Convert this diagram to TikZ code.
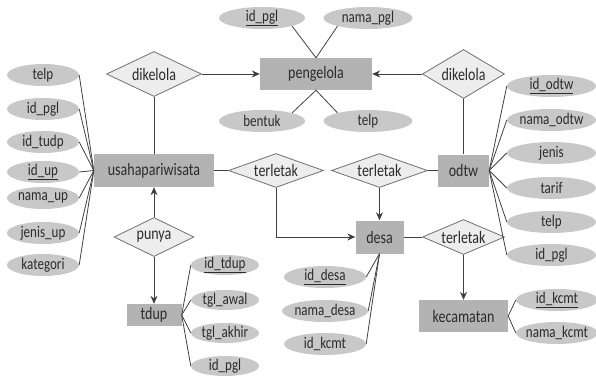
\documentclass[tikz,border=0pt]{standalone}
\usepackage{fontspec}
\setmainfont[FakeStretch=0.8]{Carlito}
\usetikzlibrary{shapes.geometric,arrows.meta}
\definecolor{entfill}{HTML}{B3B3B3}
\definecolor{attfill}{HTML}{C8C8C8}
\definecolor{relfill}{HTML}{EDEDED}
\definecolor{reldraw}{HTML}{707070}
\definecolor{linecol}{HTML}{404040}
\definecolor{txt}{HTML}{2B2B2B}
\begin{document}
\begin{tikzpicture}[x=1pt,y=-1pt,
  every node/.style={text=txt, inner sep=0pt},
  ent/.style={rectangle, fill=entfill, font=\fontsize{17.5}{18}\selectfont},
  attr/.style={ellipse, fill=attfill, inner xsep=-14pt, inner ysep=-5pt,
    minimum height=22pt, font=\fontsize{16.3}{17}\selectfont},
  rel/.style={diamond, fill=relfill, draw=reldraw, line width=0.8pt, font=\fontsize{17.5}{18}\selectfont},
  link/.style={draw=linecol, line width=0.8pt},
  arr/.style={link, -{Stealth[length=8pt,width=7pt]}}]
\useasboundingbox (0,0) rectangle (596,378);

% entities
\node[ent, minimum width=112pt, minimum height=32pt] (pgl) at (316,74) {pengelola};
\node[ent, minimum width=120pt, minimum height=33pt] (up) at (154,170.5) {usahapariwisata};
\node[ent, minimum width=51pt, minimum height=32pt] (odtw) at (463.5,170.5) {odtw};
\node[ent, minimum width=48pt, minimum height=33pt] (desa) at (379.5,237) {desa};
\node[ent, minimum width=89pt, minimum height=32pt] (kec) at (463.5,316) {kecamatan};
\node[ent, minimum width=55pt, minimum height=22pt] (tdup) at (154,315) {tdup};

% relationships
\node[rel, aspect=2.1, minimum width=95pt, minimum height=45pt] (dk1) at (154,74) {dikelola};
\node[rel, aspect=1.67, minimum width=82pt, minimum height=49pt] (dk2) at (463.5,74) {dikelola};
\node[rel, aspect=2.8, minimum width=95pt, minimum height=34pt] (tl1) at (276,170.5) {terletak};
\node[rel, aspect=2.8, minimum width=96pt, minimum height=34pt] (tl2) at (379.5,170.5) {terletak};
\node[rel, aspect=2.34, minimum width=82pt, minimum height=35pt] (tl3) at (463.5,237) {terletak};
\node[rel, aspect=2.05, minimum width=80pt, minimum height=39pt] (pun) at (154,237) {punya};

% pengelola attributes
\node[attr, minimum width=86pt] (p1) at (262,18) {\underline{id\_pgl}};
\node[attr, minimum width=89pt] (p2) at (368,18) {nama\_pgl};
\node[attr, minimum width=86pt] (p3) at (262,121) {bentuk};
\node[attr, minimum width=89pt] (p4) at (368,121) {telp};

% usahapariwisata attributes
\node[attr, minimum width=72pt] (u1) at (43,75) {telp};
\node[attr, minimum width=72pt] (u2) at (43,109) {id\_pgl};
\node[attr, minimum width=72pt] (u3) at (43,142) {id\_tudp};
\node[attr, minimum width=72pt] (u4) at (43,172) {\underline{id\_up}};
\node[attr, minimum width=72pt] (u5) at (43,198) {nama\_up};
\node[attr, minimum width=72pt] (u6) at (43,233) {jenis\_up};
\node[attr, minimum width=72pt] (u7) at (43,265) {kategori};

% odtw attributes
\node[attr, minimum width=89pt] (o1) at (551.5,86) {\underline{id\_odtw}};
\node[attr, minimum width=89pt] (o2) at (551.5,120) {nama\_odtw};
\node[attr, minimum width=89pt] (o3) at (551.5,153) {jenis};
\node[attr, minimum width=89pt] (o4) at (551.5,188) {tarif};
\node[attr, minimum width=89pt] (o5) at (551.5,222) {telp};
\node[attr, minimum width=89pt] (o6) at (551.5,255) {id\_pgl};

% desa attributes
\node[attr, minimum width=82pt] (d1) at (325,277) {\underline{id\_desa}};
\node[attr, minimum width=86pt] (d2) at (325,311) {nama\_desa};
\node[attr, minimum width=82pt] (d3) at (325,344) {id\_kcmt};

% kecamatan attributes
\node[attr, minimum width=82pt] (k1) at (557,300) {\underline{id\_kcmt}};
\node[attr, minimum width=82pt] (k2) at (557,333) {nama\_kcmt};

% tdup attributes
\node[attr, minimum width=68pt, minimum height=20pt] (t1) at (225,265) {\underline{id\_tdup}};
\node[attr, minimum width=68pt, minimum height=20pt] (t2) at (225,300) {tgl\_awal};
\node[attr, minimum width=68pt, minimum height=20pt] (t3) at (225,333) {tgl\_akhir};
\node[attr, minimum width=68pt, minimum height=20pt] (t4) at (225,366) {id\_pgl};

% attribute links
\draw[link] (pgl.north) -- (p1.-15);
\draw[link] (pgl.north) -- (p2.195);
\draw[link] (pgl.south) -- (p3.15);
\draw[link] (pgl.south) -- (p4.165);
\foreach \n in {u1,u2,u3,u4,u5,u6,u7} \draw[link] (\n.east) -- (up.west);
\foreach \n in {o1,o2,o3,o4,o5,o6} \draw[link] (\n.west) -- (odtw.east);
\foreach \n in {d1,d2,d3} \draw[link] (\n.east) -- (desa.south);
\foreach \n in {k1,k2} \draw[link] (\n.west) -- (kec.east);
\foreach \n in {t1,t2,t3,t4} \draw[link] (\n.west) -- (tdup.east);

% relationship links
\draw[arr] (dk1.east) -- (pgl.west);
\draw[link] (dk1.south) -- (up.north);
\draw[arr] (dk2.west) -- (pgl.east);
\draw[link] (dk2.south) -- (odtw.north);
\draw[link] (up.east) -- (tl1.west);
\draw[arr] (tl1.south) |- (desa.west);
\draw[link] (tl2.east) -- (odtw.west);
\draw[arr] (tl2.south) -- (desa.north);
\draw[link] (desa.east) -- (tl3.west);
\draw[arr] (tl3.south) -- (kec.north);
\draw[arr] (pun.north) -- (up.south);
\draw[arr] (pun.south) -- (tdup.north);
\end{tikzpicture}
\end{document}
